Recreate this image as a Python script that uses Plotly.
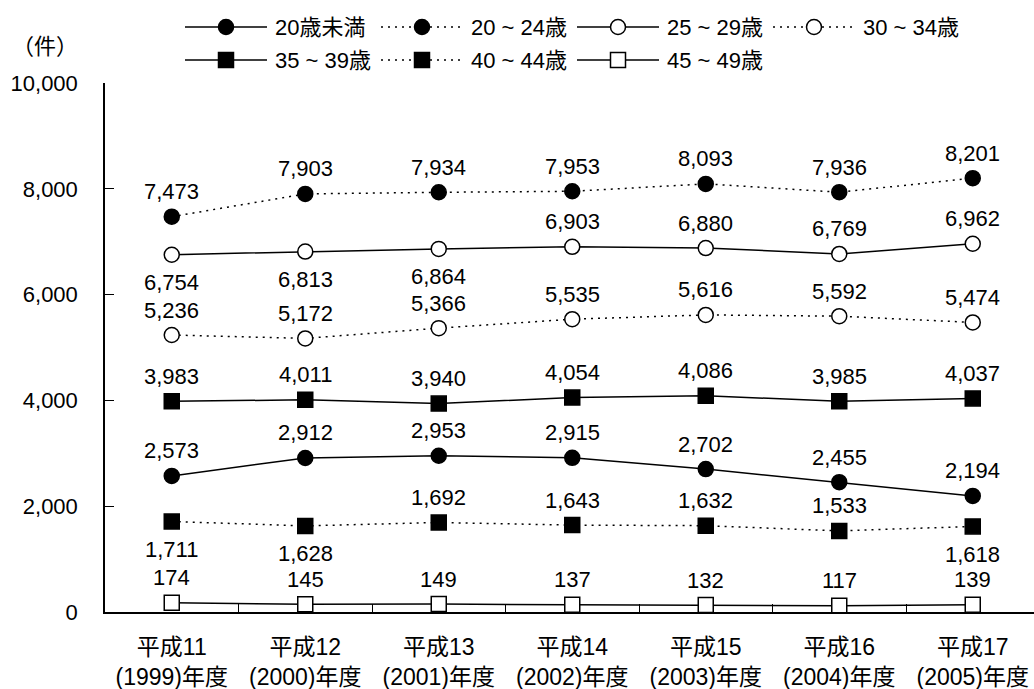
import plotly.graph_objects as go

# Fiscal years (category axis)
years = [
    "平成11<br>(1999)年度", "平成12<br>(2000)年度", "平成13<br>(2001)年度",
    "平成14<br>(2002)年度", "平成15<br>(2003)年度", "平成16<br>(2004)年度",
    "平成17<br>(2005)年度",
]

# Counts per age group (件)
age_under20 = [2573, 2912, 2953, 2915, 2702, 2455, 2194]
age_20_24 = [7473, 7903, 7934, 7953, 8093, 7936, 8201]
age_25_29 = [6754, 6813, 6864, 6903, 6880, 6769, 6962]
age_30_34 = [5236, 5172, 5366, 5535, 5616, 5592, 5474]
age_35_39 = [3983, 4011, 3940, 4054, 4086, 3985, 4037]
age_40_44 = [1711, 1628, 1692, 1643, 1632, 1533, 1618]
age_45_49 = [174, 145, 149, 137, 132, 117, 139]

series_names = ["20歳未満", "20 ~ 24歳", "25 ~ 29歳", "30 ~ 34歳",
                "35 ~ 39歳", "40 ~ 44歳", "45 ~ 49歳"]
series_values = [age_under20, age_20_24, age_25_29, age_30_34,
                 age_35_39, age_40_44, age_45_49]

# Label placement per point (T = above the marker, B = below)
label_sides = [
    "TTTTTTT",
    "TTTTTTT",
    "BBBTTTT",
    "TTTTTTT",
    "TTTTTTT",
    "BBTTTTB",
    "TTTTTTT",
]

y_ticks = [0, 2000, 4000, 6000, 8000, 10000]

# Marker styles: (symbol, fill, dashed?)
styles = [
    ("circle", "black", False),
    ("circle", "black", True),
    ("circle", "white", False),
    ("circle", "white", True),
    ("square", "black", False),
    ("square", "black", True),
    ("square", "white", False),
]

FONT = "Liberation Sans, Arial, Noto Sans CJK JP, sans-serif"
FS = 22
DOT = "2px,5px"

# Page geometry (px)
W, H = 1034, 689
M_L, M_B = 105, 77
PLOT_TOP = 83
PAPER_H = H - M_B
LEG_H = 80
SHIFT_UP, SHIFT_DOWN = 25, -28

fig = go.Figure()

for name, vals, sides, (sym, fill, dashed) in zip(series_names, series_values, label_sides, styles):
    fig.add_trace(go.Scatter(
        x=years, y=vals, name=name, mode="lines+markers",
        line=dict(color="black", width=1.5, dash=DOT if dashed else "solid"),
        marker=dict(symbol=sym, size=15, color=fill, line=dict(color="black", width=1.5)),
        showlegend=False, cliponaxis=False, hoverinfo="skip",
    ))
    # value labels
    for cat, v, s in zip(years, vals, sides):
        fig.add_annotation(
            x=cat, y=v, xref="x", yref="y", text=f"{v:,}", showarrow=False,
            xanchor="center", yanchor="middle",
            yshift=SHIFT_UP if s == "T" else SHIFT_DOWN,
            font=dict(family=FONT, size=FS, color="black"),
        )

# Hand-laid legend on its own overlay axes (pixel units)
leg_x0, leg_dx, leg_len = 185, 196, 82
leg_y0, leg_dy = 27, 33
for i, (name, (sym, fill, dashed)) in enumerate(zip(series_names, styles)):
    row, col = divmod(i, 4)
    x0 = leg_x0 + col * leg_dx
    x1 = x0 + leg_len
    yy = leg_y0 + row * leg_dy
    fig.add_trace(go.Scatter(
        x=[x0, x1], y=[yy, yy], xaxis="x2", yaxis="y2", mode="lines",
        line=dict(color="black", width=1.5, dash=DOT if dashed else "solid"),
        showlegend=False, hoverinfo="skip", cliponaxis=False,
    ))
    fig.add_trace(go.Scatter(
        x=[(x0 + x1) / 2], y=[yy], xaxis="x2", yaxis="y2", mode="markers",
        marker=dict(symbol=sym, size=15, color=fill, line=dict(color="black", width=1.5)),
        showlegend=False, hoverinfo="skip", cliponaxis=False,
    ))
    fig.add_annotation(
        x=x1 + 6, y=yy, xref="x2", yref="y2", text=name, showarrow=False,
        xanchor="left", yanchor="middle",
        font=dict(family=FONT, size=FS, color="black"),
    )

# Unit label
fig.add_annotation(
    x=(10 - M_L) / (W - M_L), y=(PAPER_H - 47) / PAPER_H, xref="paper", yref="paper",
    text="（件）", showarrow=False, xanchor="left", yanchor="middle",
    font=dict(family=FONT, size=FS, color="black"),
)

plot_frac = (PAPER_H - PLOT_TOP) / PAPER_H
fig.update_layout(
    width=W, height=H,
    margin=dict(l=M_L, r=0, t=0, b=M_B, pad=0, autoexpand=False),
    paper_bgcolor="white", plot_bgcolor="white",
    font=dict(family=FONT, size=FS, color="black"),
    xaxis=dict(
        type="category", categoryorder="array", categoryarray=years,
        range=[-0.5, -0.5 + (W - M_L) / 133.5], automargin=False,
        showline=True, linecolor="black", linewidth=1.5,
        ticks="inside", tickson="boundaries", ticklen=8, tickcolor="black", tickwidth=1.2,
        showgrid=False, zeroline=False, ticklabelstandoff=14,
        tickfont=dict(family=FONT, size=23, color="black"),
    ),
    yaxis=dict(
        domain=[0, plot_frac], range=[0, 10000], automargin=False,
        tickvals=y_ticks, ticktext=[f"{v:,}" for v in y_ticks],
        showline=True, linecolor="black", linewidth=1.5,
        ticks="inside", ticklen=9, tickcolor="black", tickwidth=1.2,
        showgrid=False, zeroline=False, ticklabelstandoff=21,
        tickfont=dict(family=FONT, size=FS, color="black"),
    ),
    xaxis2=dict(domain=[0, 1], range=[M_L, W], anchor="y2", visible=False,
                fixedrange=True, automargin=False),
    yaxis2=dict(domain=[1 - LEG_H / PAPER_H, 1], range=[LEG_H, 0], anchor="x2",
                visible=False, fixedrange=True, automargin=False),
)

fig.write_html("out.html")
